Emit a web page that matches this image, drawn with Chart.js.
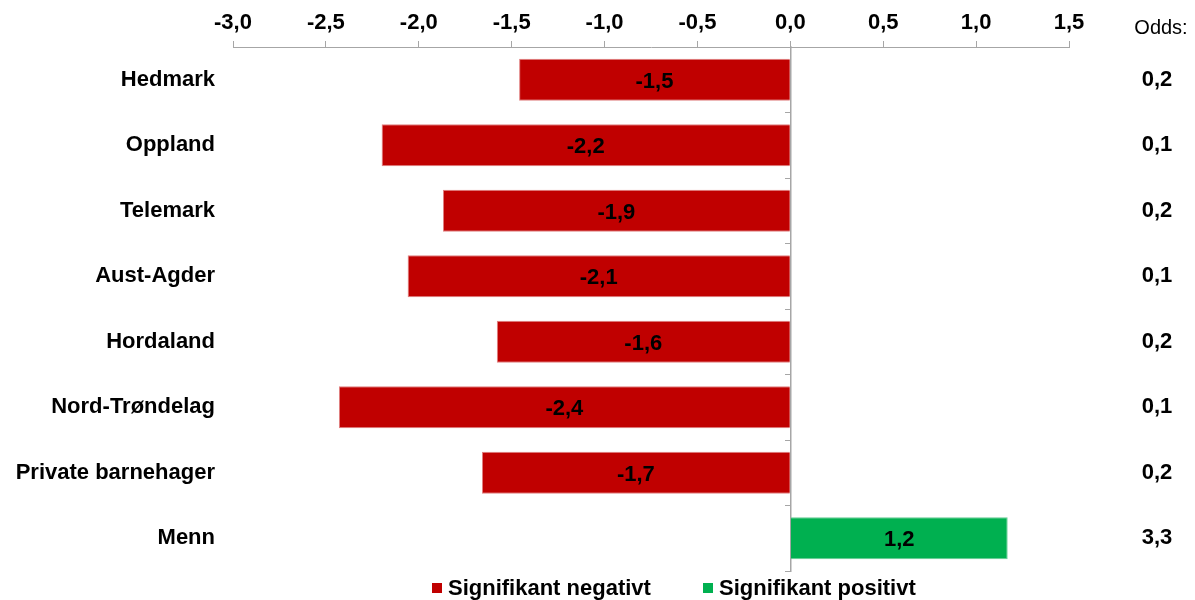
<!DOCTYPE html>
<html>
<head>
<meta charset="utf-8">
<script src="https://cdn.jsdelivr.net/npm/chart.js@4.4.0/dist/chart.umd.min.js"></script>
<style>
  html, body { margin: 0; padding: 0; background: #fff; }
  #wrap { width: 1195px; height: 600px; position: relative; }
</style>
</head>
<body>
<div id="wrap"><canvas id="oddsChart"></canvas></div>
<script>
// data
const categories = ['Hedmark', 'Oppland', 'Telemark', 'Aust-Agder', 'Hordaland', 'Nord-Trøndelag', 'Private barnehager', 'Menn'];
const negativeValues = [-1.46, -2.20, -1.87, -2.06, -1.58, -2.43, -1.66, null];
const positiveValues = [null, null, null, null, null, null, null, 1.17];
const oddsLabels = ['0,2', '0,1', '0,2', '0,1', '0,2', '0,1', '0,2', '3,3'];
const seriesNames = ['Signifikant negativt', 'Signifikant positivt'];
const seriesColors = ['#C00000', '#00B050'];
const xMin = -3.0;
const xMax = 1.5;
const xStep = 0.5;

const chartEl = document.getElementById('oddsChart');
const FONT = "'Liberation Sans', Arial, sans-serif";
const AXIS_GREY = '#a6a6a6';
const fmt = v => v.toFixed(1).replace('.', ',');

// value labels in the middle of each bar
const barLabels = {
  id: 'barLabels',
  afterDatasetsDraw(chart) {
    const ctx = chart.ctx;
    ctx.save();
    ctx.font = 'bold 22px ' + FONT;
    ctx.fillStyle = '#000';
    ctx.textAlign = 'center';
    ctx.textBaseline = 'middle';
    chart.data.datasets.forEach((ds, i) => {
      chart.getDatasetMeta(i).data.forEach((bar, j) => {
        const v = ds.data[j];
        if (v === null || v === undefined) return;
        const p = bar.getCenterPoint();
        ctx.fillText(fmt(v), p.x, p.y + 2);
      });
    });
    ctx.restore();
  }
};

// odds column on the right
const oddsColumn = {
  id: 'oddsColumn',
  afterDraw(chart) {
    const ctx = chart.ctx;
    const y = chart.scales.y;
    ctx.save();
    ctx.fillStyle = '#000';
    ctx.textAlign = 'center';
    ctx.textBaseline = 'middle';
    ctx.font = '20px ' + FONT;
    ctx.fillText('Odds:', 1161, 28);
    ctx.font = 'bold 22px ' + FONT;
    oddsLabels.forEach((o, i) => ctx.fillText(o, 1157, y.getPixelForValue(i)));
    ctx.restore();
  }
};

// legend under the plot
const bottomLegend = {
  id: 'bottomLegend',
  afterDraw(chart) {
    const ctx = chart.ctx;
    const starts = [432, 703];
    ctx.save();
    ctx.font = 'bold 22px ' + FONT;
    ctx.textBaseline = 'middle';
    ctx.textAlign = 'left';
    chart.data.datasets.forEach((ds, i) => {
      ctx.fillStyle = ds.backgroundColor;
      ctx.fillRect(starts[i], 583, 10, 10);
      ctx.fillStyle = '#000';
      ctx.fillText(ds.label, starts[i] + 16, 589);
    });
    ctx.restore();
  }
};

new Chart(chartEl, {
  type: 'bar',
  data: {
    labels: categories,
    datasets: [
      {
        label: seriesNames[0],
        data: negativeValues,
        backgroundColor: seriesColors[0],
        borderColor: '#e08080',
        borderWidth: 1,
        xAxisID: 'x',
        yAxisID: 'y',
        barPercentage: 0.64,
        categoryPercentage: 1.0
      },
      {
        label: seriesNames[1],
        data: positiveValues,
        backgroundColor: seriesColors[1],
        borderColor: '#66cc94',
        borderWidth: 1,
        xAxisID: 'x',
        yAxisID: 'y',
        barPercentage: 0.64,
        categoryPercentage: 1.0
      }
    ]
  },
  options: {
    indexAxis: 'y',
    responsive: true,
    maintainAspectRatio: false,
    animation: false,
    layout: { padding: { left: 0, right: 126, top: 0, bottom: 29 } },
    plugins: {
      legend: { display: false },
      tooltip: { enabled: false }
    },
    scales: {
      x: {
        position: 'top',
        min: xMin,
        max: xMax,
        stacked: true,
        ticks: {
          stepSize: xStep,
          color: '#000',
          font: { family: FONT, size: 22, weight: 'bold' },
          padding: 5,
          callback: v => fmt(v)
        },
        grid: { drawOnChartArea: false, drawTicks: true, tickLength: 6, color: AXIS_GREY },
        border: { color: AXIS_GREY, width: 1 },
        afterFit(s) { s.height = 47; }
      },
      y: {
        stacked: true,
        ticks: {
          color: '#000',
          font: { family: FONT, size: 22, weight: 'bold' },
          padding: 10
        },
        grid: { display: false },
        border: { display: false },
        afterFit(s) { s.width = 233; }
      },
      zero: {
        axis: 'y',
        type: 'category',
        labels: categories,
        position: { x: 0 },
        offset: true,
        grid: { offset: true, drawOnChartArea: false, tickLength: 5, color: AXIS_GREY },
        border: { color: AXIS_GREY, width: 1.5 },
        ticks: { display: false },
        afterFit(s) { s.width = 0; }
      }
    }
  },
  plugins: [barLabels, oddsColumn, bottomLegend]
});
</script>
</body>
</html>
